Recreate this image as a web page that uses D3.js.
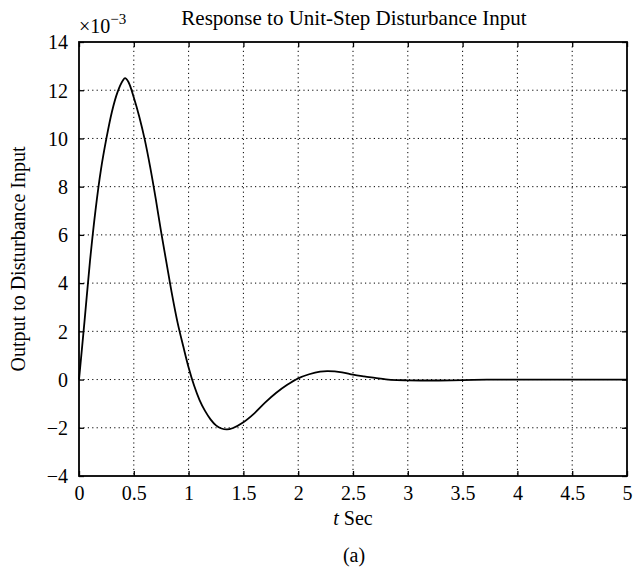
<!DOCTYPE html>
<html>
<head>
<meta charset="utf-8">
<script src="https://cdn.jsdelivr.net/npm/d3@7"></script>
<style>
  html, body { margin: 0; padding: 0; background: #fff; }
  svg text { font-family: "Liberation Serif", "Times New Roman", serif; fill: #000; }
</style>
</head>
<body>
<svg id="chart" width="634" height="569"></svg>
<script>
// ---- data (values in units of 1e-3) ----
const timeSec = [0, 0.05, 0.1, 0.15, 0.2, 0.25, 0.3, 0.35, 0.4, 0.42, 0.45, 0.5, 0.55, 0.6, 0.65, 0.7, 0.75, 0.8, 0.85, 0.9, 0.95, 1.0, 1.05, 1.1, 1.15, 1.2, 1.25, 1.3, 1.35, 1.4, 1.5, 1.6, 1.7, 1.8, 1.9, 2.0, 2.1, 2.2, 2.27, 2.4, 2.5, 2.6, 2.7, 2.8, 2.9, 3.0, 3.2, 3.4, 3.6, 3.8, 4.0, 4.5, 5.0];
const outputVals = [0, 2.4, 4.9, 7.0, 8.7, 10.0, 11.1, 11.9, 12.4, 12.5, 12.35, 11.7, 10.9, 9.95, 8.8, 7.5, 6.1, 4.8, 3.5, 2.35, 1.4, 0.5, -0.25, -0.85, -1.3, -1.65, -1.9, -2.03, -2.07, -2.02, -1.77, -1.4, -0.95, -0.55, -0.22, 0.05, 0.22, 0.33, 0.35, 0.3, 0.2, 0.13, 0.07, 0.01, -0.02, -0.03, -0.04, -0.03, -0.01, 0, 0, 0, 0];
const xTicks = [0, 0.5, 1, 1.5, 2, 2.5, 3, 3.5, 4, 4.5, 5];
const xTickLabels = ["0", "0.5", "1", "1.5", "2", "2.5", "3", "3.5", "4", "4.5", "5"];
const yTicks = [-4, -2, 0, 2, 4, 6, 8, 10, 12, 14];
const yTickLabels = ["\u22124", "\u22122", "0", "2", "4", "6", "8", "10", "12", "14"];
const titleText = "Response to Unit-Step Disturbance Input";
const yLabelText = "Output to Disturbance Input";
const captionText = "(a)";

// ---- layout ----
const L = 79, R = 627, T = 42, B = 476;
const svg = d3.select("#chart");
const x = d3.scaleLinear().domain([0, 5]).range([L, R]);
const y = d3.scaleLinear().domain([-4, 14]).range([B, T]);

// grid
const grid = svg.append("g").attr("stroke", "#000").attr("stroke-width", 1).attr("stroke-dasharray", "1.2,3.2");
grid.selectAll("line.vx").data(xTicks.slice(1, -1)).enter().append("line")
  .attr("x1", d => x(d)).attr("x2", d => x(d)).attr("y1", T).attr("y2", B);
grid.selectAll("line.hy").data(yTicks.slice(1, -1)).enter().append("line")
  .attr("y1", d => y(d)).attr("y2", d => y(d)).attr("x1", L).attr("x2", R);

// axes (ticks inward, MATLAB style)
const tickLen = 5;
const axB = svg.append("g").attr("transform", `translate(0,${B})`)
  .call(d3.axisBottom(x).tickValues(xTicks).tickSizeInner(-tickLen).tickSizeOuter(0).tickPadding(9)
    .tickFormat((d, i) => xTickLabels[i]));
const axT = svg.append("g").attr("transform", `translate(0,${T})`)
  .call(d3.axisTop(x).tickValues(xTicks).tickSizeInner(-tickLen).tickSizeOuter(0).tickFormat(""));
const axL = svg.append("g").attr("transform", `translate(${L},0)`)
  .call(d3.axisLeft(y).tickValues(yTicks).tickSizeInner(-tickLen).tickSizeOuter(0).tickPadding(11)
    .tickFormat((d, i) => yTickLabels[i]));
const axR = svg.append("g").attr("transform", `translate(${R},0)`)
  .call(d3.axisRight(y).tickValues(yTicks).tickSizeInner(-tickLen).tickSizeOuter(0).tickFormat(""));
[axB, axT, axL, axR].forEach(a => {
  a.select(".domain").remove();
  a.selectAll(".tick line").attr("stroke", "#000").attr("stroke-width", 1.3);
  a.selectAll("text").attr("font-size", 20).attr("font-family", "Liberation Serif");
});
axB.selectAll("text").attr("dy", "0.76em");
axL.selectAll("text").attr("dy", "0.34em");

// frame
svg.append("rect").attr("x", L).attr("y", T).attr("width", R - L).attr("height", B - T)
  .attr("fill", "none").attr("stroke", "#000").attr("stroke-width", 1.8);

// curve
const pts = timeSec.map((t, i) => [t, outputVals[i]]);
svg.append("path").datum(pts)
  .attr("fill", "none").attr("stroke", "#000").attr("stroke-width", 1.8)
  .attr("d", d3.line().x(d => x(d[0])).y(d => y(d[1])).curve(d3.curveCatmullRom.alpha(0.5)));

// multiplier
const mult = svg.append("text").attr("x", L).attr("y", 33).attr("font-size", 20);
mult.append("tspan").text("\u00d710");
mult.append("tspan").attr("font-size", 15).attr("dy", -9).text("\u22123");

// title
svg.append("text").attr("x", 354).attr("y", 25).attr("text-anchor", "middle")
  .attr("font-size", 21).text(titleText);

// x label
const xl = svg.append("text").attr("x", 353).attr("y", 525).attr("text-anchor", "middle").attr("font-size", 20);
xl.append("tspan").attr("font-style", "italic").text("t");
xl.append("tspan").text(" Sec");

// y label
svg.append("text").attr("transform", `translate(25,${(T + B) / 2}) rotate(-90)`)
  .attr("text-anchor", "middle").attr("font-size", 20).text(yLabelText);

// caption
svg.append("text").attr("x", 354).attr("y", 562).attr("text-anchor", "middle")
  .attr("font-size", 20).text(captionText);
</script>
</body>
</html>
